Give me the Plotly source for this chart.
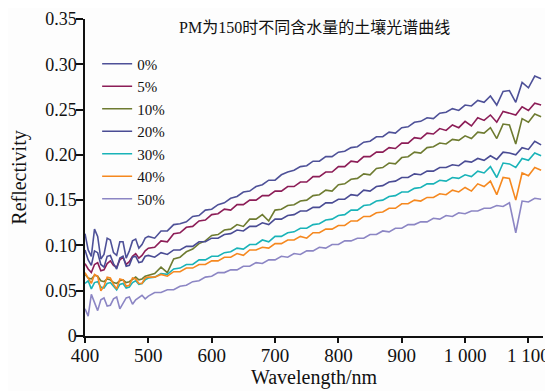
import plotly.graph_objects as go

# sampling grid: 5 nm steps in the noisy blue band, 10 nm afterwards
wavelength = list(range(400, 500, 5)) + list(range(500, 1121, 10))

s0 = [.113, .095, .088, .118, .110, .085, .090, .108, .106, .092, .089, .104, .104, .086, .094, .105, .107, .097, .101, .108, .110,
      .108, .116, .116, .123, .124, .126, .132, .133, .139,
      .140, .145, .147, .152, .154, .159, .160, .165, .167, .172, .172, .178, .181, .183, .187, .188, .193, .193, .198, .198,
      .203, .204, .208, .209, .214, .215, .220, .220, .225, .224, .230, .231, .236, .237, .241, .240, .246, .247, .251, .249,
      .255, .254, .260, .258, .265, .255, .270, .271, .258, .280, .274, .287, .284]
s1 = [.080, .074, .070, .079, .081, .072, .073, .080, .083, .078, .076, .084, .087, .079, .082, .088, .091, .086, .089, .094, .097,
      .098, .105, .104, .113, .114, .120, .121, .127, .128,
      .134, .135, .140, .139, .145, .145, .150, .150, .155, .155, .160, .160, .165, .165, .170, .170, .176, .176, .181, .181,
      .187, .187, .193, .192, .198, .198, .203, .203, .208, .207, .213, .213, .219, .218, .224, .223, .229, .227, .233, .230,
      .237, .232, .241, .238, .244, .236, .248, .246, .244, .253, .249, .257, .255]
s2 = [.068, .064, .063, .067, .066, .061, .060, .063, .062, .059, .058, .061, .062, .059, .060, .063, .065, .062, .063, .066, .067,
      .069, .076, .070, .085, .087, .093, .096, .102, .105,
      .111, .112, .117, .118, .123, .121, .129, .129, .134, .127, .139, .140, .144, .145, .149, .150, .155, .156, .161, .160,
      .167, .168, .173, .174, .179, .178, .185, .186, .191, .190, .197, .198, .203, .202, .208, .209, .213, .212, .217, .216,
      .221, .218, .225, .224, .230, .218, .234, .233, .212, .240, .236, .245, .242]
s3 = [.095, .084, .078, .094, .092, .079, .076, .088, .089, .080, .074, .086, .088, .077, .078, .087, .088, .081, .082, .088, .089,
      .087, .092, .090, .095, .095, .099, .099, .104, .104,
      .108, .108, .112, .113, .117, .116, .121, .121, .125, .123, .129, .129, .133, .134, .138, .138, .142, .142, .147, .147,
      .151, .151, .156, .155, .161, .160, .165, .166, .170, .171, .175, .175, .179, .178, .182, .182, .186, .186, .189, .188,
      .193, .192, .196, .194, .199, .195, .203, .202, .200, .208, .206, .215, .211]
s4 = [.058, .061, .052, .059, .060, .054, .053, .058, .059, .055, .051, .057, .058, .053, .054, .059, .061, .057, .058, .062, .064,
      .065, .069, .068, .074, .075, .079, .079, .084, .084,
      .088, .088, .092, .093, .097, .096, .101, .101, .106, .104, .110, .110, .114, .115, .119, .119, .123, .124, .128, .129,
      .133, .134, .139, .139, .144, .145, .149, .150, .154, .155, .159, .159, .163, .164, .168, .168, .172, .171, .175, .174,
      .178, .176, .182, .180, .187, .175, .191, .190, .186, .196, .194, .202, .199]
s5 = [.070, .064, .058, .068, .066, .050, .055, .065, .064, .057, .052, .063, .062, .055, .056, .064, .063, .058, .058, .064, .065,
      .065, .068, .066, .071, .071, .075, .075, .079, .079,
      .083, .083, .087, .087, .091, .089, .095, .095, .098, .097, .102, .102, .106, .106, .110, .108, .114, .114, .118, .118,
      .122, .122, .127, .127, .132, .132, .136, .137, .141, .141, .146, .146, .150, .149, .153, .153, .157, .156, .161, .159,
      .164, .160, .168, .165, .171, .156, .175, .174, .150, .180, .177, .186, .183]
s6 = [.030, .022, .046, .038, .028, .040, .042, .033, .034, .041, .043, .030, .036, .042, .043, .035, .040, .043, .045, .041, .044,
      .048, .048, .051, .051, .055, .056, .060, .061, .065,
      .066, .070, .070, .073, .073, .077, .077, .081, .080, .084, .084, .088, .087, .091, .090, .094, .094, .098, .097, .101,
      .101, .105, .105, .108, .108, .112, .112, .116, .115, .119, .119, .123, .123, .126, .126, .130, .129, .133, .132, .136,
      .135, .138, .138, .141, .141, .144, .143, .147, .114, .149, .148, .152, .151]

series_names = ["0%", "5%", "10%", "20%", "30%", "40%", "50%"]
series_values = [s0, s1, s2, s3, s4, s5, s6]
colors = ["#4E5198", "#8C1D57", "#6E7B31", "#4A4C94", "#19B3B8", "#F5881F", "#8C86C4"]

x_tickvals = [400, 500, 600, 700, 800, 900, 1000, 1100]
x_ticktext = ["400", "500", "600", "700", "800", "900", "1 000", "1 100"]
y_tickvals = [0, 0.05, 0.10, 0.15, 0.20, 0.25, 0.30, 0.35]
y_ticktext = ["0", "0.05", "0.10", "0.15", "0.20", "0.25", "0.30", "0.35"]

title_text = "PM为150时不同含水量的土壤光谱曲线"

serif = "Liberation Serif, Times New Roman, Noto Sans CJK SC, serif"

fig = go.Figure()
for name, vals, col in zip(series_names, series_values, colors):
    fig.add_trace(go.Scatter(x=wavelength, y=vals, mode="lines", name=name,
                             line=dict(color=col, width=1.6)))

# the page body adds an 8 px offset, so the figure is sized to the visible area
fig.update_layout(
    width=545, height=383,
    margin=dict(l=77, r=10, t=11, b=55),
    paper_bgcolor="#fdfdfd", plot_bgcolor="#fdfdfd",
    font=dict(family=serif, size=18, color="#111"),
    showlegend=True,
    legend=dict(x=0.0265, y=0.910, xanchor="left", yanchor="top",
                bgcolor="rgba(0,0,0,0)", font=dict(size=15, family=serif),
                tracegroupgap=0),
    annotations=[dict(text=title_text, xref="paper", yref="paper", x=0.5, y=0.9748,
                      xanchor="center", yanchor="middle", showarrow=False,
                      font=dict(size=16, family=serif, color="#111"))],
)
fig.update_xaxes(range=[400, 1123], tickvals=x_tickvals, ticktext=x_ticktext, automargin=False,
                 showline=True, linecolor="#111", linewidth=1.5, ticks="outside",
                 ticklen=5, tickwidth=1.5, tickcolor="#111", showgrid=False, zeroline=False,
                 tickfont=dict(size=19), ticklabelstandoff=-4, ticklabeloverflow="allow",
                 title=dict(text="Wavelength/nm", standoff=3, font=dict(size=20)))
fig.update_yaxes(range=[0, 0.35], tickvals=y_tickvals, ticktext=y_ticktext, automargin=False,
                 showline=True, linecolor="#111", linewidth=1.5, ticks="outside",
                 ticklen=7, tickwidth=1.5, tickcolor="#111", showgrid=False, zeroline=False,
                 tickfont=dict(size=18), ticklabelstandoff=-4, ticklabeloverflow="allow",
                 title=dict(text="Reflectivity", standoff=22, font=dict(size=20)))

fig.write_html("out.html")
